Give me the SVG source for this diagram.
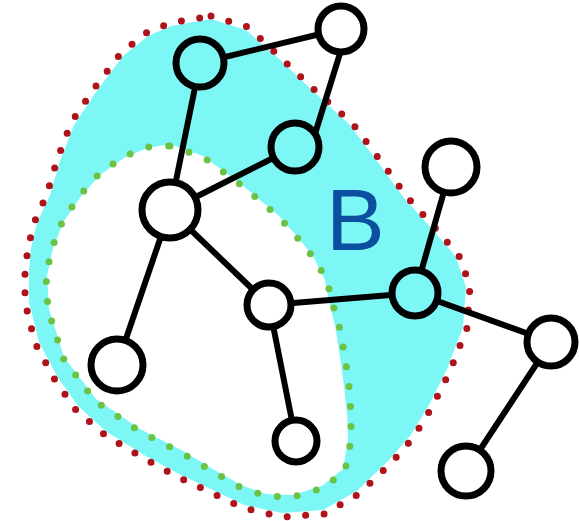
<svg xmlns="http://www.w3.org/2000/svg" width="579" height="521" viewBox="0 0 579 521">
<style>
.region{fill:#7df6f6;fill-rule:evenodd;stroke:none}
.red{fill:none;stroke:#b0121a;stroke-width:7;stroke-linecap:round;stroke-linejoin:round;stroke-dasharray:0 18.5}
.green{fill:none;stroke:#6cc243;stroke-width:7;stroke-linecap:round;stroke-linejoin:round;stroke-dasharray:0 20}
.edge{stroke:#000;stroke-width:6;stroke-linecap:round;fill:none}
.node{stroke:#000;stroke-width:7}
.cy{fill:#7df6f6}
.wh{fill:#fff}
.lbl{font-family:"Liberation Sans",Arial,sans-serif;font-size:88px;fill:#0b4f9e}
</style>
<rect width="579" height="521" fill="#fff"/>
<g id="region-B">
<path class="region" d="M211,19 L246,30 L276,56 L316,94 L349,124 L380,165 L404,198 L433,230 L456,257 L466,287 L463,327 L447,369 L429,405 L410,436 L389,460 L357,491 L323,510 L282,513 L244,505 L213,490 L179,474 L144,455 L107,432 L79,407 L58,378 L39,342 L29,302 L29,271 L31,248 L37,223 L50,195 L60,161 L74,125 L96,92 L123,56 L148,36 L171,26 Z M170,144 L203,156 L241,184 L279,216 L295,234 L313,256 L325,280 L329,302 L335,325 L340,357 L344,386 L347,414 L348,440 L343,469 L322,486 L293,495 L266,494 L241,485 L218,472 L183,451 L140,429 L96,399 L64,357 L49,309 L47,276 L53,248 L64,221 L82,195 L100,175 L124,158 L147,148 Z"/>
<path class="red" d="M211,16 L248,27 L282,59 L320,95 L352,123 L383,164 L407,197 L436,229 L459,256 L470,286 L467,328 L450,371 L432,407 L413,438 L392,462 L359,494 L324,514 L282,517 L243,508 L212,493 L178,477 L143,458 L105,435 L76,410 L55,380 L35,343 L25,302 L25,271 L28,248 L34,223 L47,194 L57,160 L71,123 L93,90 L121,53 L146,33 L170,23 Z"/>
<path class="green" d="M170,146 L203,157 L241,185 L279,217 L295,235 L313,257 L327,280 L332,302 L339,325 L345,357 L349,386 L351,414 L351,440 L345,471 L323,488 L293,497 L266,496 L240,487 L217,474 L182,453 L139,431 L95,401 L63,358 L48,309 L46,276 L52,248 L63,220 L81,194 L99,174 L123,157 L146,147 Z"/>
<text class="lbl" x="326" y="250">B</text>
</g>
<g id="connectors">
<line class="edge" x1="200" y1="63" x2="341" y2="29"/>
<line class="edge" x1="200" y1="63" x2="170" y2="210"/>
<line class="edge" x1="342" y1="47" x2="314" y2="137"/>
<line class="edge" x1="295" y1="147" x2="170" y2="210"/>
<line class="edge" x1="170" y1="210" x2="269" y2="305"/>
<line class="edge" x1="170" y1="210" x2="117" y2="365"/>
<line class="edge" x1="269" y1="305" x2="296" y2="441"/>
<line class="edge" x1="269" y1="305" x2="415" y2="293"/>
<line class="edge" x1="415" y1="293" x2="451" y2="167"/>
<line class="edge" x1="415" y1="293" x2="551" y2="342"/>
<line class="edge" x1="551" y1="342" x2="466" y2="471"/>
</g>
<g id="n1"><circle class="node cy" cx="200" cy="63" r="24"/></g>
<g id="n2"><circle class="node wh" cx="341" cy="29" r="23"/></g>
<g id="n3"><circle class="node cy" cx="295" cy="147" r="24"/></g>
<g id="n4"><circle class="node wh" cx="170" cy="210" r="28"/></g>
<g id="n5"><circle class="node wh" cx="269" cy="305" r="22"/></g>
<g id="n6"><circle class="node wh" cx="117" cy="365" r="26"/></g>
<g id="n7"><circle class="node wh" cx="296" cy="441" r="21"/></g>
<g id="n8"><circle class="node cy" cx="415" cy="293" r="23"/></g>
<g id="n9"><circle class="node wh" cx="451" cy="167" r="26"/></g>
<g id="n10"><circle class="node wh" cx="551" cy="342" r="24"/></g>
<g id="n11"><circle class="node wh" cx="466" cy="471" r="25"/></g>
</svg>
